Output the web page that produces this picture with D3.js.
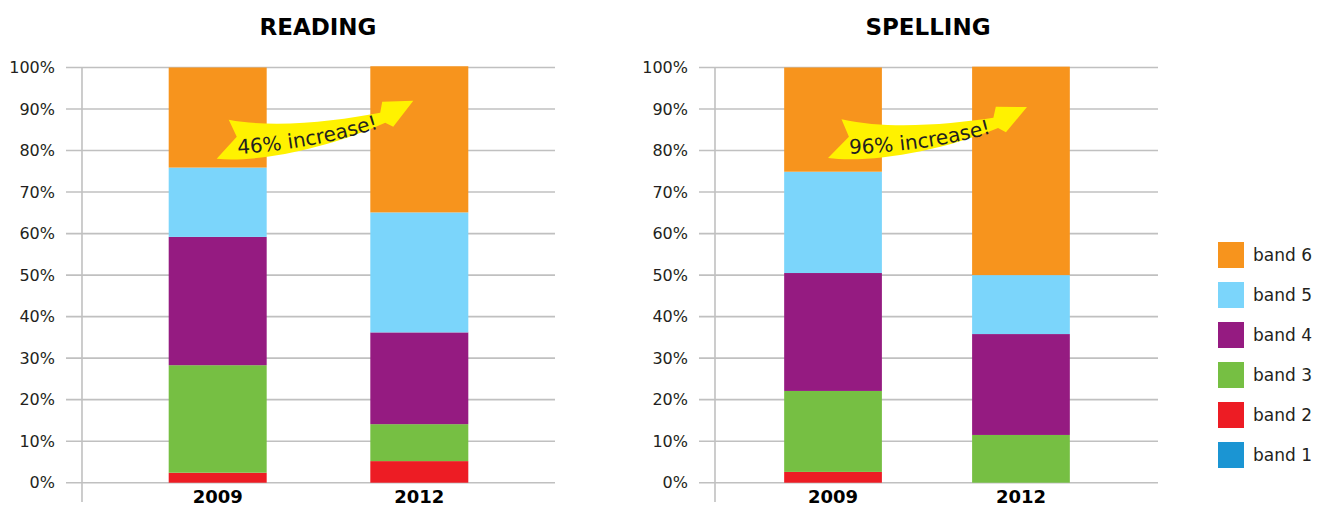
<!DOCTYPE html>
<html>
  <head>
    <meta charset="utf-8" />
    <script src="https://d3js.org/d3.v7.min.js"></script>
    <style>
      body {
        margin: 0px;
        background: #fff;
      }
      text {
        font-family: "DejaVu Sans", sans-serif;
        fill: #231f20;
      }
      .title {
        font-size: 23px;
        font-weight: bold;
        text-anchor: middle;
        fill: #000;
      }
      .tick-label {
        font-size: 16px;
        text-anchor: end;
      }
      .year-label {
        font-size: 18px;
        font-weight: bold;
        text-anchor: middle;
        fill: #000;
      }
      .legend-label {
        font-size: 17px;
      }
      .arrow-text {
        font-size: 20px;
      }
    </style>
  </head>
  <body>
    <svg width="1317" height="508"></svg>
    <script>
      // data (percent of students in each band)
      const years = ["2009", "2012"];
      const bands = ["band 1", "band 2", "band 3", "band 4", "band 5", "band 6"];
      const colors = ["#1b95d3", "#ed1c24", "#76bf43", "#951b81", "#7bd5fb", "#f7941d"];
      const yTicks = [0, 10, 20, 30, 40, 50, 60, 70, 80, 90, 100];

      const reading2009 = [0, 2.4, 25.9, 30.9, 16.7, 24.1];
      const reading2012 = [0, 5.2, 8.9, 22.1, 28.9, 35.2];
      const spelling2009 = [0, 2.6, 19.5, 28.4, 24.4, 25.1];
      const spelling2012 = [0, 0, 11.5, 24.3, 14.2, 50.2];

      const panels = [
        {
          title: "READING",
          values: [reading2009, reading2012],
          note: "46% increase!",
          axisX: 82, gridX0: 66, gridX1: 555, bandX1: 555,
          padIn: 0.514, padOut: 0.43, titleX: 318,
          from: { pct: 78, dx: -1 }, to: { pct: 92, dx: -6 },
        },
        {
          title: "SPELLING",
          values: [spelling2009, spelling2012],
          note: "96% increase!",
          axisX: 715, gridX0: 699, gridX1: 1158, bandX1: 1139,
          padIn: 0.48, padOut: 0.368, titleX: 928,
          from: { pct: 78.2, dx: -5 }, to: { pct: 90.5, dx: 6 },
        },
      ];

      const svg = d3.select("svg");
      const y = d3.scaleLinear().domain([0, 100]).range([482.7, 67.5]);
      const axisBottom = 502;

      // arrow outline, drawn for a tail-to-tip vector of (196,-58)
      const arrowShape =
        "M0,0 C40,4 110,-10 168,-36 L176,-32 L196,-58 L165,-57 L163,-46 " +
        "C120,-38 60,-30 12,-39 L20,-22 Z";
      const arrowBase = [196, -58];
      const textCurve = "M21,-5 Q95,-9 166,-32";

      panels.forEach((p, pi) => {
        const g = svg.append("g");
        const x = d3
          .scaleBand()
          .domain(years)
          .range([p.axisX, p.bandX1])
          .paddingInner(p.padIn)
          .paddingOuter(p.padOut);

        g.append("text")
          .attr("class", "title")
          .attr("x", p.titleX)
          .attr("y", 35)
          .text(p.title);

        // gridlines + labels
        g.selectAll(".grid")
          .data(yTicks)
          .join("line")
          .attr("x1", p.gridX0)
          .attr("x2", p.gridX1)
          .attr("y1", (d) => y(d))
          .attr("y2", (d) => y(d))
          .attr("stroke", "#c0c0c0")
          .attr("stroke-width", 1.6);

        g.selectAll(".tick-label")
          .data(yTicks)
          .join("text")
          .attr("class", "tick-label")
          .attr("x", p.axisX - 27)
          .attr("y", (d) => y(d))
          .attr("dy", "0.36em")
          .text((d) => d + "%");

        g.append("line")
          .attr("x1", p.axisX)
          .attr("x2", p.axisX)
          .attr("y1", y(100))
          .attr("y2", axisBottom)
          .attr("stroke", "#c0c0c0")
          .attr("stroke-width", 1.6);

        // stacked bars
        const rows = years.map((yr, i) => {
          const r = { year: yr };
          bands.forEach((b, j) => (r[b] = p.values[i][j]));
          return r;
        });
        const series = d3.stack().keys(bands)(rows);

        g.selectAll(".band")
          .data(series)
          .join("g")
          .attr("fill", (d, i) => colors[i])
          .selectAll("rect")
          .data((d) => d)
          .join("rect")
          .attr("x", (d) => x(d.data.year))
          .attr("width", x.bandwidth())
          .attr("y", (d) => y(d[1]))
          .attr("height", (d) => y(d[0]) - y(d[1]));

        g.selectAll(".year-label")
          .data(years)
          .join("text")
          .attr("class", "year-label")
          .attr("x", (d) => x(d) + x.bandwidth() / 2)
          .attr("y", 503)
          .text((d) => d);

        // yellow arrow annotation
        const tx = x(years[0]) + x.bandwidth() / 2 + p.from.dx;
        const ty = y(p.from.pct);
        const hx = x(years[1]) + x.bandwidth() / 2 + p.to.dx;
        const hy = y(p.to.pct);
        const ang =
          (Math.atan2(hy - ty, hx - tx) - Math.atan2(arrowBase[1], arrowBase[0])) *
          (180 / Math.PI);
        const sc = Math.hypot(hx - tx, hy - ty) / Math.hypot(arrowBase[0], arrowBase[1]);
        const ag = g
          .append("g")
          .attr("transform", `translate(${tx},${ty}) rotate(${ang}) scale(${sc})`);
        ag.append("path").attr("d", arrowShape).attr("fill", "#fff200");
        ag.append("path")
          .attr("id", "curve" + pi)
          .attr("d", textCurve)
          .attr("fill", "none");
        ag.append("text")
          .attr("class", "arrow-text")
          .append("textPath")
          .attr("href", "#curve" + pi)
          .text(p.note);
      });

      // legend
      const legend = svg
        .append("g")
        .attr("transform", "translate(1218,242)");
      const items = legend
        .selectAll("g")
        .data(bands.slice().reverse())
        .join("g")
        .attr("transform", (d, i) => `translate(0,${i * 40})`);
      items
        .append("rect")
        .attr("width", 26)
        .attr("height", 26)
        .attr("fill", (d) => colors[bands.indexOf(d)]);
      items
        .append("text")
        .attr("class", "legend-label")
        .attr("x", 35)
        .attr("y", 13)
        .attr("dy", "0.36em")
        .text((d) => d);
    </script>
  </body>
</html>
